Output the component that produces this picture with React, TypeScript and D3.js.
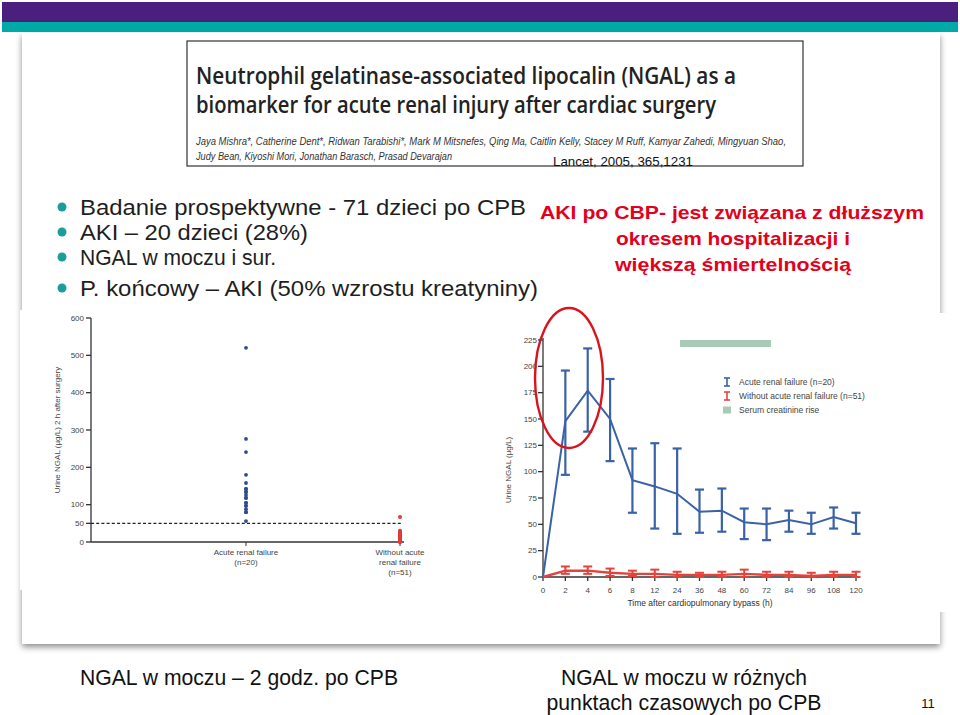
import React from "react";
import * as d3 from "d3";

// ---------- DATA ----------
const bulletLines = [
  "Badanie prospektywne - 71 dzieci po CPB",
  "AKI – 20 dzieci (28%)",
  "NGAL w moczu i sur.",
  "P. końcowy – AKI (50% wzrostu kreatyniny)",
];
const redNote = [
  "AKI po CBP- jest związana z dłuższym",
  "okresem hospitalizacji i",
  "większą śmiertelnością",
];
const titleLines = [
  "Neutrophil gelatinase-associated lipocalin (NGAL) as a",
  "biomarker for acute renal injury after cardiac surgery",
];
const authorLines = [
  "Jaya Mishra*, Catherine Dent*, Ridwan Tarabishi*, Mark M Mitsnefes, Qing Ma, Caitlin Kelly, Stacey M Ruff, Kamyar Zahedi, Mingyuan Shao,",
  "Judy Bean, Kiyoshi Mori, Jonathan Barasch, Prasad Devarajan",
];
const citation = "Lancet, 2005, 365,1231";
const captionLeft = "NGAL w moczu – 2 godz. po CPB";
const captionRight = ["NGAL w moczu w różnych", "punktach czasowych po CPB"];
const pageNumber = "11";

// Left chart: urine NGAL 2 h after surgery
const leftGroups = ["Acute renal failure", "Without acute renal failure"];
const leftGroupLabels = [
  ["Acute renal failure", "(n=20)"],
  ["Without acute", "renal failure", "(n=51)"],
];
const leftTicks = [0, 50, 100, 200, 300, 400, 500, 600];
const akiValues = [520, 276, 241, 180, 158, 142, 142, 134, 134, 126, 118, 118, 105, 105, 97, 97, 88, 80, 80, 56];
const noAkiValues = [67, 30, 28, 27, 25, 24, 23, 22, 21, 20, 19, 18, 18, 17, 16, 16, 15, 14, 14, 13, 12, 12, 11, 11, 10, 10, 9, 9, 8, 8, 7, 7, 7, 6, 6, 6, 5, 5, 5, 4, 4, 4, 3, 3, 3, 2, 2, 2, 1, 1, 0];
const cutoff = 50;

// Right chart: time course
const times = ["0", "2", "4", "6", "8", "12", "24", "36", "48", "60", "72", "84", "96", "108", "120"];
const akiMean = [0, 148, 177, 150, 92, 86, 79, 62, 63, 52, 50, 54, 50, 57, 51];
const akiUpper = [0, 196, 217, 188, 122, 127, 122, 83, 84, 65, 65, 63, 61, 66, 61];
const akiLower = [0, 97, 138, 110, 61, 46, 41, 42, 43, 36, 35, 43, 41, 46, 41];
const noMean = [0, 6, 6, 4, 3, 3, 2, 2, 2, 3, 2, 2, 1, 2, 2];
const noUpper = [0, 10, 10, 8, 6, 7, 5, 4, 5, 7, 5, 5, 4, 5, 5];
const noLower = [0, 3, 3, 1, 1, 0, 0, 0, 0, 0, 0, 0, 0, 0, 0];
const rightTicks = [0, 25, 50, 75, 100, 125, 150, 175, 200, 225];
const legendItems = ["Acute renal failure (n=20)", "Without acute renal failure (n=51)", "Serum creatinine rise"];

// ---------- STYLE ----------
const PURPLE = "#4a1f7e";
const TEAL = "#00aaa6";
const BLUE = "#3a62a6";
const DOT_BLUE = "#2b4b92";
const RED = "#e4433b";
const NOTE_RED = "#e3001b";
const GREEN = "#a9cab4";
const SANS = "'Liberation Sans', Arial, sans-serif";
const NARROW = "'Liberation Sans Narrow', 'Liberation Sans', Arial, sans-serif";
const CHART = "'Liberation Sans Narrow', 'Liberation Sans', Arial, sans-serif";
const TITLE = "'Open Sans', 'Noto Sans', sans-serif";

export default function App() {
  const yL = d3.scaleLinear().domain([0, 600]).range([542, 318]);
  const xL = d3.scalePoint().domain(leftGroups).range([246, 400]);
  const yR = d3.scaleLinear().domain([0, 225]).range([577, 340]);
  const xR = d3.scalePoint().domain(times).range([543, 856]);

  const lineR = d3
    .line<number>()
    .x((_, i) => xR(times[i]) as number)
    .y((d) => yR(d));

  const errorBars = (mean: number[], lo: number[], hi: number[], color: string, w: number, key: string) =>
    mean.map((_, i) => {
      if (hi[i] <= lo[i]) return null;
      const x = xR(times[i]) as number;
      return (
        <g key={key + i} stroke={color} strokeWidth={w}>
          <line x1={x} x2={x} y1={yR(lo[i])} y2={yR(hi[i])} />
          <line x1={x - 4.5} x2={x + 4.5} y1={yR(hi[i])} y2={yR(hi[i])} />
          <line x1={x - 4.5} x2={x + 4.5} y1={yR(lo[i])} y2={yR(lo[i])} />
        </g>
      );
    });

  const bulletY = [207, 232, 257, 288];
  const bulletW = [446, 228, 196, 458];

  return (
    <svg width={960} height={715} style={{ position: "absolute", left: 0, top: 0, background: "#fff" }}>
      <defs>
        <filter id="shadow" x="-5%" y="-5%" width="110%" height="112%">
          <feDropShadow dx="0" dy="3" stdDeviation="3" floodColor="#000" floodOpacity="0.45" />
        </filter>
      </defs>
      <rect x={0} y={0} width={960} height={715} fill="#fff" />
      <rect x={2} y={2} width={956} height={20} fill={PURPLE} />
      <rect x={2} y={22} width={956} height={10} fill={TEAL} />
      <rect x={22} y={33} width={918} height={611} fill="#fff" filter="url(#shadow)" />

      {/* title box */}
      <rect x={187} y={41} width={616} height={125} fill="#fff" stroke="#333" strokeWidth={1.2} />
      {titleLines.map((t, i) => (
        <text key={t} x={196} y={84 + i * 29} fontFamily={TITLE} fontWeight={600} fontSize={23} fill="#222"
          textLength={i === 0 ? 540 : 520} lengthAdjust="spacingAndGlyphs">{t}</text>
      ))}
      {authorLines.map((t, i) => (
        <text key={t} x={196} y={145 + i * 15} fontFamily={SANS} fontStyle="italic" fontSize={10} fill="#333"
          textLength={i === 0 ? 590 : 256} lengthAdjust="spacingAndGlyphs">{t}</text>
      ))}
      <text x={553} y={166} fontFamily={NARROW} fontSize={13} fill="#111" textLength={140} lengthAdjust="spacingAndGlyphs">{citation}</text>

      {/* bullets */}
      {bulletLines.map((t, i) => {
        const cy = bulletY[i];
        return (
          <g key={t}>
            <circle cx={62} cy={cy} r={4.5} fill="#1a9e9a" />
            <text x={80} y={cy + 8} fontFamily={SANS} fontSize={22.5} fill="#1e1e1e"
              textLength={bulletW[i]} lengthAdjust="spacingAndGlyphs">{t}</text>
          </g>
        );
      })}

      {/* red note */}
      {redNote.map((t, i) => {
        const widths = [384, 234, 236];
        return (
          <text key={t} x={i === 0 ? 540 : 733} y={219 + i * 26} textAnchor={i === 0 ? "start" : "middle"}
            fontFamily={NARROW} fontWeight={700} fontSize={18.5} fill={NOTE_RED}
            textLength={widths[i]} lengthAdjust="spacingAndGlyphs">{t}</text>
        );
      })}

      {/* LEFT CHART */}
      <g>
        <rect x={20} y={310} width={480} height={280} fill="#fff" />
        <line x1={91} x2={91} y1={yL(600)} y2={yL(0)} stroke="#333" strokeWidth={1.3} />
        <line x1={91} x2={404} y1={yL(0)} y2={yL(0)} stroke="#333" strokeWidth={1.3} />
        {leftTicks.map((t) => (
          <g key={t}>
            <line x1={86} x2={91} y1={yL(t)} y2={yL(t)} stroke="#333" strokeWidth={1.3} />
            <text x={84} y={yL(t) + 2.8} textAnchor="end" fontFamily={CHART} fontSize={8} fill="#444">{t}</text>
          </g>
        ))}
        <line x1={91} x2={402} y1={yL(cutoff)} y2={yL(cutoff)} stroke="#222" strokeWidth={1.1} strokeDasharray="3,2.2" />
        {leftGroups.map((g, gi) => (
          <g key={g}>
            <line x1={xL(g)} x2={xL(g)} y1={yL(0)} y2={yL(0) + 4} stroke="#333" strokeWidth={1} />
            {leftGroupLabels[gi].map((l, li) => (
              <text key={l} x={xL(g)} y={yL(0) + 13 + li * 10} textAnchor="middle" fontFamily={CHART} fontSize={8} fill="#444">{l}</text>
            ))}
          </g>
        ))}
        <text transform={`translate(60,${430}) rotate(-90)`} textAnchor="middle" fontFamily={CHART} fontSize={8} fill="#444">
          Urine NGAL (µg/L) 2 h after surgery
        </text>
        {noAkiValues.map((v, i) => (
          <circle key={"n" + i} cx={xL(leftGroups[1])} cy={yL(v)} r={2} fill="#e23a36" />
        ))}
        {akiValues.map((v, i) => (
          <circle key={"a" + i} cx={xL(leftGroups[0])} cy={yL(v)} r={1.9} fill={DOT_BLUE} />
        ))}
      </g>

      {/* RIGHT CHART */}
      <g>
        <rect x={500} y={313} width={458} height={299} fill="#fff" />
        <rect x={680} y={340} width={91} height={7} fill={GREEN} />
        <line x1={543} x2={543} y1={yR(225) - 2} y2={yR(0)} stroke="#333" strokeWidth={1.3} />
        <line x1={543} x2={858} y1={yR(0)} y2={yR(0)} stroke="#333" strokeWidth={1.3} />
        {rightTicks.map((t) => (
          <g key={t}>
            <line x1={538} x2={543} y1={yR(t)} y2={yR(t)} stroke="#333" strokeWidth={1.3} />
            <text x={537} y={yR(t) + 2.8} textAnchor="end" fontFamily={CHART} fontSize={8} fill="#444">{t}</text>
          </g>
        ))}
        {times.map((t) => (
          <g key={t}>
            <line x1={xR(t)} x2={xR(t)} y1={yR(0)} y2={yR(0) + 4} stroke="#333" strokeWidth={1.3} />
            <text x={xR(t)} y={yR(0) + 16} textAnchor="middle" fontFamily={CHART} fontSize={8} fill="#444">{t}</text>
          </g>
        ))}
        <text x={700} y={606} textAnchor="middle" fontFamily={CHART} fontSize={8.5} fill="#333">Time after cardiopulmonary bypass (h)</text>
        <text transform={`translate(511,${470}) rotate(-90)`} textAnchor="middle" fontFamily={CHART} fontSize={8} fill="#444">
          Urine NGAL (µg/L)
        </text>
        <path d={lineR(akiMean) || ""} fill="none" stroke={BLUE} strokeWidth={2} />
        {errorBars(akiMean, akiLower, akiUpper, BLUE, 2.2, "b")}
        <path d={lineR(noMean) || ""} fill="none" stroke={RED} strokeWidth={2.4} />
        {errorBars(noMean, noLower, noUpper, RED, 2, "r")}

        {legendItems.map((t, i) => {
          const y = 382 + i * 14;
          const c = i === 0 ? BLUE : RED;
          return (
            <g key={t}>
              {i < 2 ? (
                <g stroke={c} strokeWidth={1.6}>
                  <line x1={727} x2={727} y1={y - 4} y2={y + 4} />
                  <line x1={724} x2={730} y1={y - 4} y2={y - 4} />
                  <line x1={724} x2={730} y1={y + 4} y2={y + 4} />
                </g>
              ) : (
                <rect x={723} y={y - 3.5} width={8} height={7} fill={GREEN} />
              )}
              <text x={739} y={y + 3} fontFamily={CHART} fontSize={8.5} fill="#444">{t}</text>
            </g>
          );
        })}

        <ellipse cx={569} cy={378} rx={34} ry={70} fill="none" stroke="#d8141c" strokeWidth={2.4} />
      </g>

      {/* captions */}
      <text x={80} y={685} fontFamily={NARROW} fontSize={22} fill="#111" textLength={318} lengthAdjust="spacingAndGlyphs">{captionLeft}</text>
      {captionRight.map((t, i) => (
        <text key={t} x={684} y={685 + i * 25} textAnchor="middle" fontFamily={NARROW} fontSize={22} fill="#111"
          textLength={i === 0 ? 246 : 275} lengthAdjust="spacingAndGlyphs">{t}</text>
      ))}
      <text x={928} y={708} textAnchor="middle" fontFamily={NARROW} fontSize={13} fill="#111">{pageNumber}</text>
    </svg>
  );
}
